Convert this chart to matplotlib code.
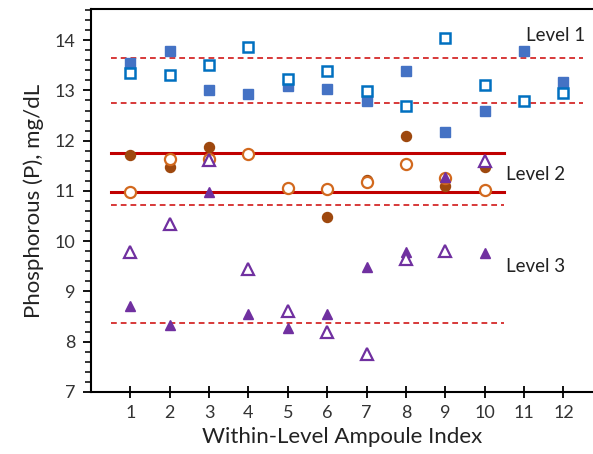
import matplotlib
matplotlib.use("Agg")
import matplotlib.pyplot as plt
from matplotlib.ticker import MultipleLocator

plt.rcParams['font.family'] = ['Lato', 'DejaVu Sans']

# Level 1
l1_x_filled = [1, 2, 3, 4, 5, 6, 7, 8, 9, 10, 11, 12]
l1_filled = [13.54, 13.78, 13.00, 12.92, 13.09, 13.03, 12.79, 13.39, 12.17, 12.59, 13.78, 13.17]
l1_x_open = [1, 2, 3, 4, 5, 6, 7, 8, 9, 10, 11, 12]
l1_open = [13.35, 13.30, 13.50, 13.86, 13.23, 13.39, 12.99, 12.69, 14.05, 13.11, 12.79, 12.95]

# Level 2
l2_x_filled = [1, 2, 3, 6, 7, 8, 9, 10]
l2_filled = [11.72, 11.47, 11.88, 10.49, 11.21, 12.10, 11.10, 11.48]
l2_x_open = [1, 2, 3, 4, 5, 6, 7, 8, 9, 10]
l2_open = [10.97, 11.64, 11.64, 11.73, 11.06, 11.04, 11.17, 11.53, 11.25, 11.02]

# Level 3
l3_x_filled = [1, 2, 3, 4, 5, 6, 7, 8, 9, 10]
l3_filled = [8.71, 8.33, 10.97, 8.55, 8.28, 8.55, 9.49, 9.79, 11.28, 9.77]
l3_x_open = [1, 2, 3, 4, 5, 6, 7, 8, 9, 10]
l3_open = [9.79, 10.34, 11.61, 9.44, 8.62, 8.20, 7.75, 9.65, 9.81, 11.59]

# Reference lines
l1_dashed = [13.64, 12.74]
l2_solid = [11.75, 10.97]
l2_dashed = [10.72]
l3_dashed = [8.37]

xticks = list(range(1, 13))
yticks = [7, 8, 9, 10, 11, 12, 13, 14]

fig = plt.figure(figsize=(5.93, 4.54), dpi=100)
ax = fig.add_axes([91/593, 62/454, 1 - 91/593, (392 - 9)/454])

dash_col = '#D42A2A'
solid_col = '#C00000'
for y in l1_dashed:
    ax.plot([0.5, 12.5], [y, y], color=dash_col, lw=1.3, ls=(0, (3.2, 2.2)), zorder=1)
for y in l2_solid:
    ax.plot([0.5, 10.5], [y, y], color=solid_col, lw=2.2, zorder=1)
for y in l2_dashed + l3_dashed:
    ax.plot([0.5, 10.5], [y, y], color=dash_col, lw=1.3, ls=(0, (3.2, 2.2)), zorder=1)

ax.plot(l1_x_filled, l1_filled, ls='none', marker='s', ms=7.2, color='#4472C4', mec='#4472C4', zorder=3)
ax.plot(l1_x_open, l1_open, ls='none', marker='s', ms=7.8, mfc='white', mec='#0070C0', mew=1.8, zorder=3)
ax.plot(l2_x_filled, l2_filled, ls='none', marker='o', ms=7.2, color='#9E480E', mec='#9E480E', zorder=3)
ax.plot(l2_x_open, l2_open, ls='none', marker='o', ms=8, mfc='white', mec='#D2691E', mew=1.6, zorder=3)
ax.plot(l3_x_filled, l3_filled, ls='none', marker='^', ms=7.5, color='#7030A0', mec='#7030A0', zorder=4)
ax.plot(l3_x_open, l3_open, ls='none', marker='^', ms=8, mfc='white', mec='#7030A0', mew=1.6, zorder=4)

ax.text(12.55, 14.1, 'Level 1', ha='right', va='center', fontsize=13.5, color='#222222')
ax.text(10.55, 11.32, 'Level 2', ha='left', va='center', fontsize=13.5, color='#222222')
ax.text(10.55, 9.49, 'Level 3', ha='left', va='center', fontsize=13.5, color='#222222')

ax.set_xlim(0, 12.75)
ax.set_ylim(7, 14.62)
ax.set_xticks(xticks)
ax.set_yticks(yticks)
ax.yaxis.set_minor_locator(MultipleLocator(0.2))
ax.tick_params(axis='x', direction='inout', length=9, width=1.3, labelsize=13, labelcolor='#333333', pad=5)
ax.tick_params(axis='y', which='major', direction='out', length=6, width=1.3, labelsize=13, labelcolor='#333333', pad=5)
ax.tick_params(axis='y', which='minor', direction='out', length=4, width=1.1)

for s in ['left', 'bottom', 'top']:
    ax.spines[s].set_linewidth(1.5)
ax.spines['right'].set_visible(False)

ax.set_xlabel('Within-Level Ampoule Index', fontsize=16, color='#222222', labelpad=4)
ax.set_ylabel('Phosphorous (P), mg/dL', fontsize=16, color='#222222', labelpad=8)

fig.savefig('out.png', dpi=100)
